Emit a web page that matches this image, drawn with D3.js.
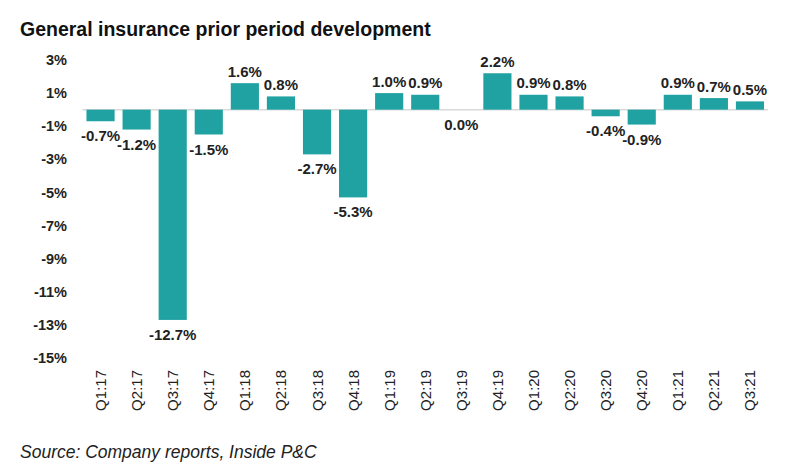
<!DOCTYPE html>
<html><head><meta charset="utf-8">
<script src="https://cdn.jsdelivr.net/npm/d3@7"></script>
<style>body{margin:0;background:#fff;}text{font-family:"Liberation Sans",Arial,sans-serif;}</style>
</head><body><svg id="c" width="800" height="475"></svg>
<script>
const categories=["Q1:17","Q2:17","Q3:17","Q4:17","Q1:18","Q2:18","Q3:18","Q4:18","Q1:19","Q2:19","Q3:19","Q4:19","Q1:20","Q2:20","Q3:20","Q4:20","Q1:21","Q2:21","Q3:21"];
const values=[-0.7,-1.2,-12.7,-1.5,1.6,0.8,-2.7,-5.3,1.0,0.9,0.0,2.2,0.9,0.8,-0.4,-0.9,0.9,0.7,0.5];
const yTicks=[3,1,-1,-3,-5,-7,-9,-11,-13,-15];
const title="General insurance prior period development";
const source="Source: Company reports, Inside P&C";

const svg=d3.select("#c");
const x=d3.scaleBand().domain(categories).range([82.5,768]).paddingInner(0.22).paddingOuter(0.11);
const y=d3.scaleLinear().domain([-15,3]).range([358,60]);
const color="#20a1a2";

svg.append("text").attr("x",20).attr("y",36).attr("font-size",19.5).attr("font-weight","bold").attr("fill","#111").text(title);

svg.append("g").selectAll("text").data(yTicks).join("text")
 .attr("x",67).attr("y",d=>y(d)).attr("dy","0.35em").attr("text-anchor","end")
 .attr("font-size",14.5).attr("font-weight","bold").attr("fill","#222").text(d=>d+"%");

svg.append("line").attr("x1",x.range()[0]).attr("x2",x.range()[1]).attr("y1",y(0)).attr("y2",y(0)).attr("stroke","#d9d9d9").attr("stroke-width",1.5);

svg.append("g").selectAll("rect").data(values).join("rect")
 .attr("x",(d,i)=>x(categories[i])).attr("width",x.bandwidth())
 .attr("y",d=>y(Math.max(0,d))).attr("height",d=>Math.abs(y(d)-y(0))).attr("fill",color);

svg.append("g").selectAll("text").data(values).join("text")
 .attr("x",(d,i)=>x(categories[i])+x.bandwidth()/2)
 .attr("y",d=>d>0?y(d)-6.5:y(d)+20)
 .attr("text-anchor","middle").attr("font-size",15).attr("font-weight","bold").attr("fill","#222")
 .text(d=>d.toFixed(1)+"%");

svg.append("g").selectAll("text").data(categories).join("text")
 .attr("transform",d=>`translate(${x(d)+x.bandwidth()/2+5.5},370) rotate(-90)`)
 .attr("text-anchor","end").attr("font-size",15).attr("fill","#222").text(d=>d);

svg.append("text").attr("x",20).attr("y",458).attr("font-size",17.5).attr("font-style","italic").attr("fill","#222").text(source);
</script></body></html>
